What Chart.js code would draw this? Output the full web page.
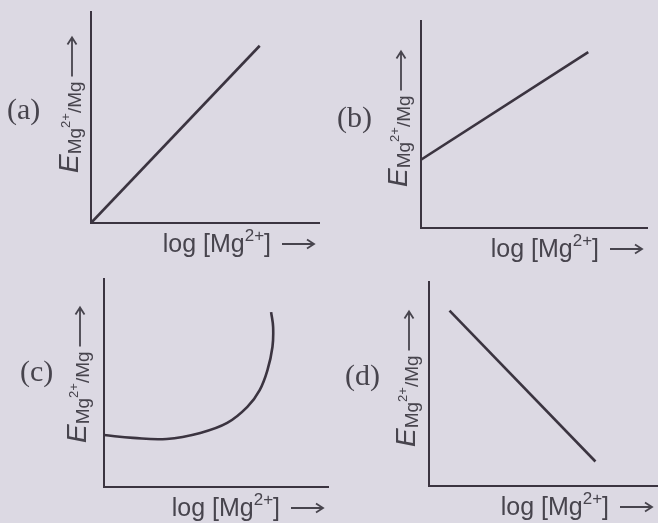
<!DOCTYPE html>
<html>
<head>
<meta charset="utf-8">
<script src="https://cdn.jsdelivr.net/npm/chart.js@4"></script>
<style>
  html, body { margin: 0; padding: 0; }
  body { width: 658px; height: 523px; position: relative; overflow: hidden; background: #dcd9e3; }
  canvas { position: absolute; }
</style>
</head>
<body>
<canvas id="panelA" width="329" height="262" style="left:0;top:0"></canvas>
<canvas id="panelB" width="329" height="262" style="left:329px;top:0"></canvas>
<canvas id="panelC" width="329" height="261" style="left:0;top:262px"></canvas>
<canvas id="panelD" width="329" height="261" style="left:329px;top:262px"></canvas>
<script>
// every panel uses the same 0..10 scale on both axes (no ticks shown)
const linearX = [0, 7.4];
const linearY = [0, 8.4];

const offsetX = [0, 7.4];
const offsetY = [3.3, 8.5];

const curveX = [0, 1.3, 2.8, 4.3, 5.5, 6.4, 6.95, 7.3, 7.52, 7.55, 7.46];
const curveY = [2.5, 2.36, 2.31, 2.6, 3.08, 3.85, 4.66, 5.63, 6.73, 7.69, 8.41];

const fallingX = [0.9, 7.3];
const fallingY = [8.6, 1.2];

const panelTags = ["(a)", "(b)", "(c)", "(d)"];

const ink = "#3b3440";
const textInk = "#47444d";

function toPoints(xs, ys) {
  return xs.map((x, i) => ({ x: x, y: ys[i] }));
}

// draws a run of text pieces (font + baseline shift) one after the other
function drawRuns(ctx, runs, x, y) {
  let cx = x;
  runs.forEach((r) => {
    ctx.font = r.font;
    ctx.fillText(r.text, cx, y + (r.dy || 0));
    cx += ctx.measureText(r.text).width;
  });
  return cx;
}

function runsWidth(ctx, runs) {
  let w = 0;
  runs.forEach((r) => {
    ctx.font = r.font;
    w += ctx.measureText(r.text).width;
  });
  return w;
}

function drawArrow(ctx, x0, y, x1) {
  ctx.beginPath();
  ctx.moveTo(x0, y);
  ctx.lineTo(x1, y);
  ctx.moveTo(x1 - 7, y - 4.5);
  ctx.lineTo(x1, y);
  ctx.lineTo(x1 - 7, y + 4.5);
  ctx.stroke();
}

const sans = '"Liberation Sans", Arial, sans-serif';

const xTitleRuns = [
  { text: "log [Mg", font: "25px " + sans },
  { text: "2+", font: "17px " + sans, dy: -11 },
  { text: "]", font: "25px " + sans },
];

const yTitleRuns = [
  { text: "E", font: "italic 28px " + sans },
  { text: "Mg", font: "19px " + sans, dy: 3 },
  { text: "2+", font: "13px " + sans, dy: -8 },
  { text: "/Mg", font: "19px " + sans, dy: 3 },
];

// axis titles, arrows and the (a)-(d) tag sit outside the plot area
const panelLabels = {
  id: "panelLabels",
  afterDraw(chart, args, opts) {
    const ctx = chart.ctx;
    const a = chart.chartArea;
    ctx.save();
    ctx.fillStyle = textInk;
    ctx.strokeStyle = textInk;
    ctx.lineWidth = 1.8;
    ctx.textBaseline = "alphabetic";

    ctx.font = '30px "Liberation Serif", "Times New Roman", serif';
    ctx.fillText(opts.tag, a.left - 84, a.top + opts.tagDrop);

    // x title, right aligned with the arrow
    const arrowEnd = a.right - 5;
    const arrowLen = 32;
    const gap = 11;
    const w = runsWidth(ctx, xTitleRuns);
    const base = a.bottom + 29;
    drawRuns(ctx, xTitleRuns, arrowEnd - arrowLen - gap - w, base);
    drawArrow(ctx, arrowEnd - arrowLen, base - 8, arrowEnd);

    // y title, rotated, reading upwards
    ctx.translate(a.left - opts.yGap, a.bottom - opts.yLift);
    ctx.rotate(-Math.PI / 2);
    const end = drawRuns(ctx, yTitleRuns, 0, 0);
    drawArrow(ctx, end + 5, -6, end + 44);
    ctx.restore();
  },
};

function makePanel(id, points, labels, padding, tension) {
  new Chart(document.getElementById(id), {
    type: "line",
    data: {
      datasets: [
        {
          data: points,
          borderColor: ink,
          borderWidth: 2.6,
          pointRadius: 0,
          fill: false,
          tension: tension,
        },
      ],
    },
    options: {
      responsive: false,
      animation: false,
      events: [],
      layout: { padding: padding },
      plugins: {
        legend: { display: false },
        tooltip: { enabled: false },
        panelLabels: labels,
      },
      scales: {
        x: {
          type: "linear",
          min: 0,
          max: 10,
          grid: { display: false },
          ticks: { display: false },
          border: { color: ink, width: 2 },
          afterFit: (scale) => { scale.height = 0; },
        },
        y: {
          type: "linear",
          min: 0,
          max: 10,
          grid: { display: false },
          ticks: { display: false },
          border: { color: ink, width: 2 },
          afterFit: (scale) => { scale.width = 0; },
        },
      },
    },
    plugins: [panelLabels],
  });
}

makePanel("panelA", toPoints(linearX, linearY),
  { tag: panelTags[0], tagDrop: 107, yGap: 13, yLift: 50 },
  { left: 91, top: 12, right: 10, bottom: 39 }, 0);
makePanel("panelB", toPoints(offsetX, offsetY),
  { tag: panelTags[1], tagDrop: 106, yGap: 14, yLift: 41 },
  { left: 92, top: 21, right: 11, bottom: 34 }, 0);
makePanel("panelC", toPoints(curveX, curveY),
  { tag: panelTags[2], tagDrop: 102, yGap: 18, yLift: 44 },
  { left: 104, top: 17, right: 1, bottom: 36 }, 0.4);
makePanel("panelD", toPoints(fallingX, fallingY),
  { tag: panelTags[3], tagDrop: 103, yGap: 14, yLift: 39 },
  { left: 100, top: 20, right: 1, bottom: 37 }, 0);
</script>
</body>
</html>
